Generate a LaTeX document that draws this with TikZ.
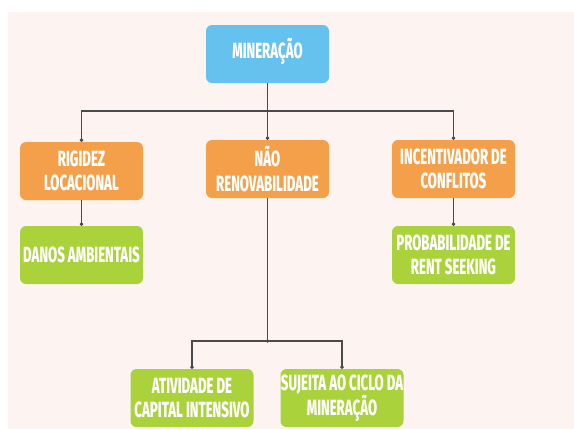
\documentclass[tikz,border=0pt]{standalone}
\usepackage{fontspec}
\setmainfont{Fira Sans}[FakeStretch=0.6,BoldFont={Fira Sans ExtraBold}]
\usetikzlibrary{arrows.meta}
\definecolor{bgpink}{HTML}{FDF4F2}
\definecolor{skyblue}{HTML}{65C1ED}
\definecolor{boxorange}{HTML}{F4A04A}
\definecolor{boxgreen}{HTML}{A9D23B}
\definecolor{linegray}{HTML}{4A4A4A}

\begin{document}
\begin{tikzpicture}[x=1pt,y=-1pt,
    box/.style={rounded corners=6pt,minimum width=123pt,minimum height=58pt,inner sep=0pt,align=center,text=white,font=\fontsize{22}{24.5}\selectfont\bfseries},
    bluebox/.style={box,fill=skyblue},
    orangebox/.style={box,fill=boxorange},
    greenbox/.style={box,fill=boxgreen},
    link/.style={draw=linegray,line width=1.1pt,-{Circle[length=3.5pt]}}]
        \useasboundingbox (0,0) rectangle (574,429);
        \fill[bgpink] (8,12) rectangle (574,429);

        \node[bluebox] (min) at (267.5,54) {\raisebox{12pt}{MINERAÇÃO}};
        \node[orangebox] (rig) at (81.5,171) {RIGIDEZ\\LOCACIONAL};
        \node[orangebox] (nao) at (267.5,169) {NÃO\\RENOVABILIDADE};
        \node[orangebox] (inc) at (453.5,169) {INCENTIVADOR DE\\CONFLITOS};
        \node[greenbox] (dan) at (81.5,255) {DANOS AMBIENTAIS};
        \node[greenbox] (prob) at (453.5,255) {PROBABILIDADE DE\\RENT SEEKING};
        \node[greenbox] (ativ) at (192,398) {ATIVIDADE DE\\CAPITAL INTENSIVO};
        \node[greenbox] (suj) at (342,398) {SUJEITA AO CICLO DA\\MINERAÇÃO};

        \coordinate (j1) at (267.5,111);
        \coordinate (j2) at (267.5,341);

        \draw[link] (min.south) -- (j1) -| (rig.north);
        \draw[link] (j1) -- (nao.north);
        \draw[link] (j1) -| (inc.north);
        \draw[link] (rig.south) -- (dan.north);
        \draw[link] (inc.south) -- (prob.north);

        \draw[draw=linegray,line width=1.1pt] (nao.south) -- (j2);
        \fill[linegray] (j2) circle (1.8pt);
        \draw[link] (j2) -| (ativ.north);
        \draw[link] (j2) -| (suj.north);
    \end{tikzpicture}
\end{document}
